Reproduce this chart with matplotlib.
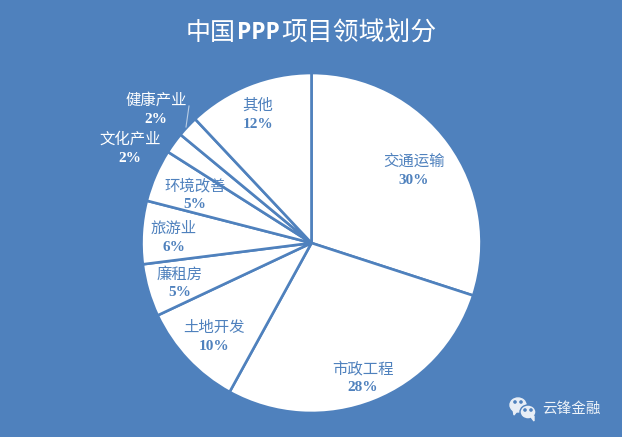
import matplotlib
matplotlib.use('Agg')
import matplotlib.pyplot as plt
from matplotlib.patches import Ellipse, Polygon

plt.rcParams['font.family'] = ['Noto Sans CJK SC', 'DejaVu Sans']

categories = ['交通运输', '市政工程', '土地开发', '廉租房', '旅游业', '环境改善', '文化产业', '健康产业', '其他']
values = [30, 28, 10, 5, 6, 5, 2, 2, 12]
title_parts = ['中国', 'PPP', '项目领域划分']
watermark = '云锋金融'

bg = '#4F81BD'
H = 437

# label centres, pixels from top left of the reference
label_xy = [(414, 161.5), (363, 368.5), (214, 327.5), (180, 274), (174, 228.5), (195, 185.5), (130, 139.5), (156, 100.5), (258, 105.5)]
inside = [True, True, True, True, True, True, False, False, True]

fig = plt.figure(figsize=(6.22, 4.37), dpi=100, facecolor=bg)
ax = fig.add_axes([0, 0, 1, 1])

ax.pie(values, center=(311.5, H - 243), radius=170, startangle=90, counterclock=False,
       colors=['white'] * len(values), frame=True,
       wedgeprops=dict(edgecolor=bg, linewidth=1.9))
ax.set_xlim(0, 622)
ax.set_ylim(0, H)
ax.axis('off')

for name, v, (x, y), ins in zip(categories, values, label_xy, inside):
    c = bg if ins else 'white'
    ax.text(x, H - y, name, color=c, fontsize=11.1, ha='center', va='center')
    ax.text(x, H - y - 19, f'{v}%', color=c, fontsize=11, ha='center', va='center',
            family='Liberation Serif', weight='bold')

# leader line for 健康产业
ax.plot([189, 186], [H - 106, H - 127], color='#B9CDE5', lw=0.8)

# title
ax.text(186, H - 33, title_parts[0], color='white', fontsize=18, ha='left', va='center')
ax.text(237, H - 33, title_parts[1], color='white', fontsize=16.5, ha='left', va='center',
        family='Open Sans', weight='bold')
ax.text(437, H - 33, title_parts[2], color='white', fontsize=18.6, ha='right', va='center')

# wechat mark
icon = '#E8EEF6'
ax.add_patch(Ellipse((518, H - 405), 16, 14, color=icon, zorder=3))
ax.add_patch(Polygon([(513, H - 409), (517, H - 411), (514, H - 415)], color=icon, zorder=3))
ax.add_patch(Ellipse((528, H - 412), 16, 14, facecolor=icon, edgecolor=bg, lw=1, zorder=4))
ax.add_patch(Polygon([(531, H - 417), (534, H - 416), (534, H - 421)], color=icon, zorder=4))
for ex, ey in [(515, 402), (521, 402), (525, 410), (531, 410)]:
    ax.add_patch(Ellipse((ex, H - ey), 2.2, 2.2, color=bg, zorder=5))
ax.text(571, H - 409, watermark, color='#EEF3F9', fontsize=10.5, ha='center', va='center')

fig.savefig('out.png', dpi=100, facecolor=bg)
